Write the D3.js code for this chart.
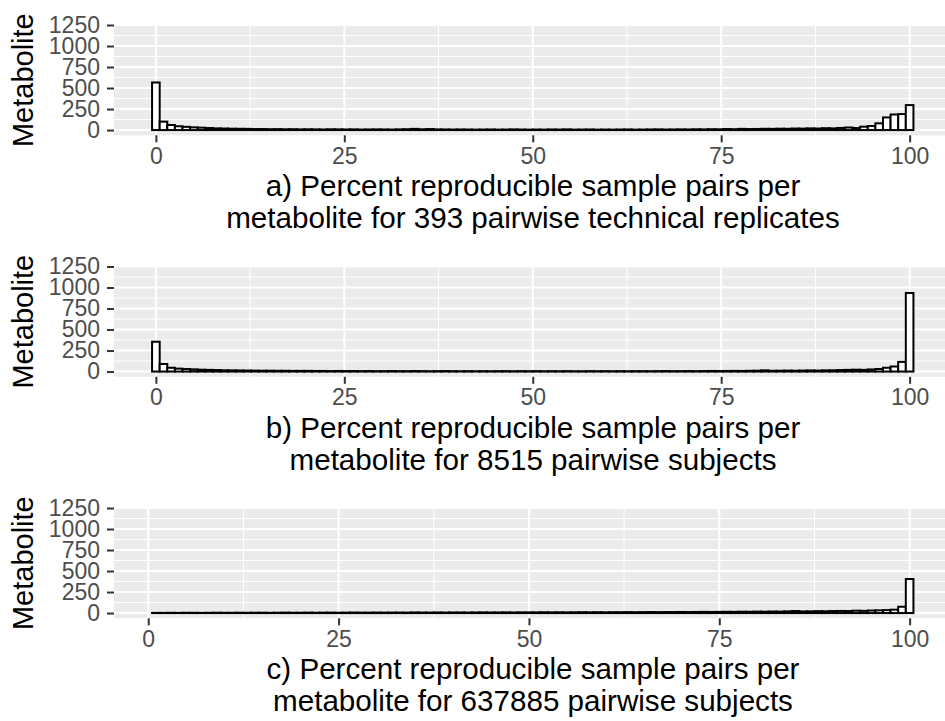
<!DOCTYPE html>
<html>
<head>
<meta charset="utf-8">
<script src="https://cdn.jsdelivr.net/npm/d3@7"></script>
<style>
  body { margin: 0; background: #fff; }
  text { font-family: "Liberation Sans", Arial, sans-serif; }
</style>
</head>
<body>
<svg id="chart"></svg>
<script>
const width = 945;
const height = 721;

// histogram counts, 100 bins per panel
const countsA = [
  566, 100, 60, 45, 38, 32, 28, 24, 20, 18,
  16, 15, 14, 12, 12, 10, 11, 9, 10, 8,
  9, 8, 7, 9, 8, 7, 8, 6, 7, 8,
  7, 6, 8, 10, 14, 9, 12, 8, 7, 6,
  7, 6, 5, 6, 7, 5, 6, 8, 6, 5,
  6, 5, 7, 6, 8, 5, 6, 7, 5, 6,
  5, 6, 7, 5, 6, 7, 8, 6, 7, 8,
  7, 9, 8, 10, 9, 12, 10, 14, 12, 13,
  15, 14, 16, 15, 18, 17, 20, 18, 22, 20,
  25, 30, 24, 40, 48, 80, 150, 185, 190, 297
];
const countsB = [
  355, 90, 45, 35, 30, 26, 22, 20, 18, 15,
  14, 13, 12, 11, 10, 10, 9, 9, 8, 8,
  8, 7, 7, 6, 7, 6, 6, 5, 6, 5,
  5, 6, 5, 5, 6, 5, 4, 5, 6, 5,
  4, 5, 4, 5, 4, 5, 5, 4, 5, 4,
  5, 4, 5, 4, 5, 4, 4, 5, 4, 5,
  4, 5, 4, 5, 5, 4, 5, 6, 5, 5,
  6, 5, 6, 7, 6, 7, 8, 7, 9, 10,
  14, 9, 10, 11, 10, 12, 13, 12, 14, 15,
  18, 20, 22, 20, 25, 30, 45, 60, 115, 935
];
const countsC = [
  2, 2, 3, 2, 3, 3, 2, 3, 4, 3,
  3, 4, 3, 4, 4, 3, 4, 5, 4, 4,
  5, 4, 5, 5, 4, 5, 6, 5, 5, 6,
  5, 6, 6, 5, 7, 6, 6, 7, 6, 7,
  7, 6, 7, 8, 7, 7, 8, 7, 8, 8,
  8, 9, 8, 9, 8, 9, 10, 9, 10, 9,
  10, 10, 11, 10, 11, 12, 11, 12, 12, 13,
  12, 13, 14, 13, 14, 15, 14, 16, 15, 17,
  16, 18, 17, 20, 24, 19, 20, 22, 21, 24,
  25, 24, 28, 26, 30, 32, 35, 40, 75, 405
];

// lowest value in each panel's data (highest is 100)
const dataMin = [0, 0, 1];
const panelCounts = [countsA, countsB, countsC];
const titleLines = [
  ["a) Percent reproducible sample pairs per", "metabolite for 393 pairwise technical replicates"],
  ["b) Percent reproducible sample pairs per", "metabolite for 8515 pairwise subjects"],
  ["c) Percent reproducible sample pairs per", "metabolite for 637885 pairwise subjects"]
];
const xTicks = [0, 25, 50, 75, 100];
const xMinor = [12.5, 37.5, 62.5, 87.5];
const yTicks = [0, 250, 500, 750, 1000, 1250];
const yMinor = [125, 375, 625, 875, 1125];
const yLabel = "Metabolite";

let svg = d3.select("#chart")
  .attr("width", width)
  .attr("height", height);

const panelLeft = 114;
const panelRight = 951.5;
const panelH = 110.3;
const panelTops = [25, 266.5, 508];

panelTops.forEach((top, p) => {
  let counts = panelCounts[p];
  let nb = counts.length;
  let bw = (100 - dataMin[p]) / (nb - 1);
  let bins = counts.map((c, i) => ({ x: dataMin[p] + i * bw, n: c }));

  // ggplot-like 5% expansion
  let lo = dataMin[p] - bw / 2, hi = 100 + bw / 2;
  let pad = (hi - lo) * 0.05;
  let x = d3.scaleLinear().domain([lo - pad, hi + pad]).range([panelLeft, panelRight]);
  let y = d3.scaleLinear().domain([-62.5, 1250]).range([top + panelH, top]);

  let g = svg.append("g");

  // panel background + grid
  g.append("rect")
    .attr("x", panelLeft).attr("y", top)
    .attr("width", panelRight - panelLeft).attr("height", panelH)
    .attr("fill", "#EBEBEB");

  g.selectAll(".ymin").data(yMinor).join("line")
    .attr("x1", panelLeft).attr("x2", panelRight)
    .attr("y1", d => y(d)).attr("y2", d => y(d))
    .attr("stroke", "#fff").attr("stroke-width", 1);
  g.selectAll(".xmin").data(xMinor).join("line")
    .attr("y1", top).attr("y2", top + panelH)
    .attr("x1", d => x(d)).attr("x2", d => x(d))
    .attr("stroke", "#fff").attr("stroke-width", 1);
  g.selectAll(".ymaj").data(yTicks).join("line")
    .attr("x1", panelLeft).attr("x2", panelRight)
    .attr("y1", d => y(d)).attr("y2", d => y(d))
    .attr("stroke", "#fff").attr("stroke-width", 2);
  g.selectAll(".xmaj").data(xTicks).join("line")
    .attr("y1", top).attr("y2", top + panelH)
    .attr("x1", d => x(d)).attr("x2", d => x(d))
    .attr("stroke", "#fff").attr("stroke-width", 2);

  // bars
  g.selectAll(".bar").data(bins).join("rect")
    .attr("x", d => x(d.x - bw / 2))
    .attr("width", d => x(d.x + bw / 2) - x(d.x - bw / 2))
    .attr("y", d => y(d.n))
    .attr("height", d => y(0) - y(d.n))
    .attr("fill", "#fff")
    .attr("stroke", "#000")
    .attr("stroke-width", 2);

  // y axis
  let yAxis = d3.axisLeft(y).tickValues(yTicks).tickFormat(d3.format("d"))
    .tickSize(7).tickPadding(7);
  let ya = g.append("g")
    .attr("transform", "translate(" + panelLeft + ",0)")
    .call(yAxis);
  ya.select(".domain").remove();
  ya.selectAll(".tick line").attr("stroke", "#333").attr("stroke-width", 2);
  ya.selectAll(".tick text")
    .attr("fill", "#4D4D4D")
    .style("font-size", "23px")
    .style("font-family", "'Liberation Sans', Arial, sans-serif");

  // x axis
  let xAxis = d3.axisBottom(x).tickValues(xTicks).tickSize(7).tickPadding(5);
  let xa = g.append("g")
    .attr("transform", "translate(0," + (top + panelH) + ")")
    .call(xAxis);
  xa.select(".domain").remove();
  xa.selectAll(".tick line").attr("stroke", "#333").attr("stroke-width", 2);
  xa.selectAll(".tick text")
    .attr("fill", "#4D4D4D")
    .style("font-size", "23px")
    .style("font-family", "'Liberation Sans', Arial, sans-serif");

  // axis titles
  g.append("text")
    .attr("transform", "translate(33," + (top + panelH / 2) + ") rotate(-90)")
    .attr("text-anchor", "middle")
    .style("font-size", "29px")
    .text(yLabel);

  let cx = (panelLeft + 952) / 2;
  titleLines[p].forEach((t, k) => {
    g.append("text")
      .attr("x", cx)
      .attr("y", top + 171 + k * 32)
      .attr("text-anchor", "middle")
      .style("font-size", "29.6px")
      .text(t);
  });
});
</script>
</body>
</html>
